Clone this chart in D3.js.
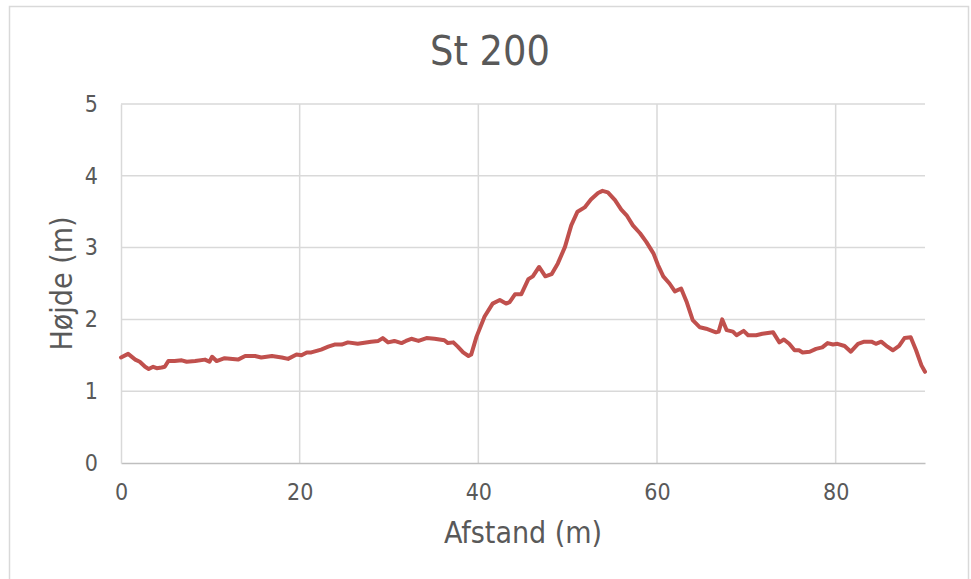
<!DOCTYPE html>
<html>
<head>
<meta charset="utf-8">
<script src="https://cdn.jsdelivr.net/npm/d3@7"></script>
<style>
html,body{margin:0;padding:0;background:#fff;}
svg{display:block;}
text{font-family:"DejaVu Sans Condensed","DejaVu Sans",Verdana,sans-serif;font-stretch:condensed;fill:#595959;}
</style>
</head>
<body>
<svg id="chart" width="971" height="579"></svg>
<script>
const title = "St 200";
const xTitle = "Afstand (m)";
const yTitle = "Højde (m)";
const xTicks = [0, 20, 40, 60, 80];
const yTicks = [0, 1, 2, 3, 4, 5];
const distance = [0,0.8,1.6,2.1,2.7,3.1,3.6,4.0,4.55,4.9,
 5.3,6.0,6.8,7.35,8.3,9.4,9.9,10.2,10.7,11.6,
 13.1,13.9,15.0,15.7,16.9,18.0,18.7,19.65,20.2,20.8,
 21.3,22.4,23.2,23.9,24.7,25.4,26.5,28.0,28.8,29.3,
 29.9,30.6,31.4,31.9,32.5,33.3,34.2,35.1,36.2,36.6,
 37.2,37.7,38.3,38.9,39.2,39.8,40.7,41.6,42.4,43.1,
 43.5,44.1,44.8,45.6,46.1,46.8,47.5,48.2,48.9,49.7,
 50.4,51.1,51.9,52.6,53.4,53.9,54.5,55.3,56.0,56.6,
 57.3,58.1,58.8,59.6,60.1,60.7,61.4,62.0,62.7,63.3,
 64.0,64.8,65.5,66.6,66.9,67.3,67.8,68.5,68.9,69.7,
 70.2,71.1,71.8,73.0,73.7,74.2,74.8,75.4,75.9,76.3,
 77.1,77.8,78.5,79.1,79.7,80.2,81.0,81.7,82.5,83.2,
 84.0,84.5,85.1,85.8,86.4,87.1,87.7,88.4,89.0,89.6,
 90.0];
const height = [1.47,1.52,1.44,1.41,1.34,1.31,1.34,1.32,1.33,1.34,
 1.42,1.42,1.43,1.41,1.42,1.44,1.41,1.48,1.42,1.46,
 1.44,1.49,1.49,1.47,1.49,1.47,1.45,1.51,1.50,1.54,
 1.54,1.58,1.62,1.65,1.65,1.68,1.66,1.69,1.70,1.74,
 1.68,1.70,1.67,1.70,1.73,1.70,1.74,1.73,1.71,1.67,
 1.68,1.62,1.54,1.49,1.51,1.76,2.04,2.22,2.27,2.22,
 2.24,2.35,2.35,2.56,2.60,2.73,2.60,2.63,2.78,3.01,
 3.31,3.50,3.56,3.67,3.76,3.79,3.77,3.66,3.53,3.45,
 3.31,3.20,3.08,2.92,2.76,2.60,2.50,2.39,2.43,2.25,
 1.99,1.89,1.87,1.82,1.83,2.00,1.85,1.83,1.78,1.84,
 1.78,1.78,1.80,1.82,1.68,1.72,1.66,1.57,1.57,1.54,
 1.55,1.59,1.61,1.67,1.65,1.66,1.63,1.55,1.66,1.69,
 1.69,1.66,1.69,1.62,1.57,1.63,1.74,1.75,1.57,1.36,
 1.27];

const FONT = '"DejaVu Sans Condensed","DejaVu Sans",sans-serif';
const svg = d3.select("#chart");
const plot = {left:121, right:925, top:104, bottom:463};

// outer chart border
svg.append("rect").attr("x",9.5).attr("y",6.5).attr("width",959).attr("height",600)
  .attr("fill","#fff").attr("stroke","#D9D9D9").attr("stroke-width",1.5);

const x = d3.scaleLinear().domain([0,90]).range([plot.left, plot.right]);
const y = d3.scaleLinear().domain([0,5]).range([plot.bottom, plot.top]);

// gridlines
svg.append("g").selectAll("line").data(yTicks.filter(d=>d>0)).join("line")
  .attr("x1",plot.left).attr("x2",plot.right)
  .attr("y1",d=>y(d)).attr("y2",d=>y(d))
  .attr("stroke","#D9D9D9").attr("stroke-width",1.5);
svg.append("g").selectAll("line").data(xTicks.filter(d=>d>0)).join("line")
  .attr("y1",plot.top).attr("y2",plot.bottom)
  .attr("x1",d=>x(d)).attr("x2",d=>x(d))
  .attr("stroke","#D9D9D9").attr("stroke-width",1.5);

// axes
const xAxis = svg.append("g").attr("transform",`translate(0,${plot.bottom})`)
  .call(d3.axisBottom(x).tickValues(xTicks).tickSize(0).tickPadding(21).tickFormat(d3.format("d")));
xAxis.select(".domain").attr("stroke","#BFBFBF").attr("stroke-width",1.5);
xAxis.selectAll("text").attr("font-size",23).attr("fill","#595959").style("font-family",FONT);

const yAxis = svg.append("g").attr("transform",`translate(${plot.left},0)`)
  .call(d3.axisLeft(y).tickValues(yTicks).tickSize(0).tickPadding(23).tickFormat(d3.format("d")));
yAxis.select(".domain").attr("stroke","#D9D9D9").attr("stroke-width",1.5);
yAxis.selectAll("text").attr("font-size",23).attr("fill","#595959").style("font-family",FONT);

// line
const pts = distance.map((d,i)=>[d,height[i]]);
svg.append("path").datum(pts)
  .attr("fill","none").attr("stroke","#C0504D").attr("stroke-width",4)
  .attr("stroke-linejoin","round").attr("stroke-linecap","round")
  .attr("d", d3.line().x(d=>x(d[0])).y(d=>y(d[1])));

// titles
svg.append("text").attr("x",490).attr("y",65).attr("text-anchor","middle")
  .attr("font-size",41).text(title);
svg.append("text").attr("x",(plot.left+plot.right)/2).attr("y",543).attr("text-anchor","middle")
  .attr("font-size",30).text(xTitle);
svg.append("text").attr("transform",`translate(72,${(plot.top+plot.bottom)/2}) rotate(-90)`)
  .attr("text-anchor","middle").attr("font-size",30).text(yTitle);
</script>
</body>
</html>
